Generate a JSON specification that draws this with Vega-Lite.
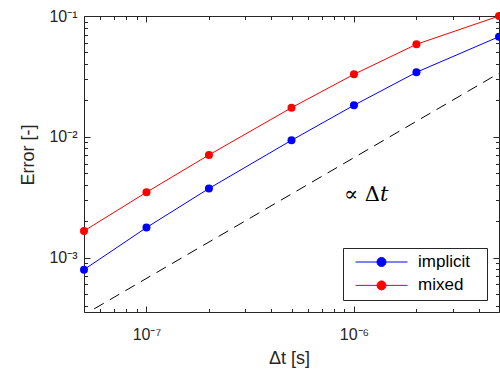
{
  "$schema": "https://vega.github.io/schema/vega-lite/v6.json",
  "width": 415,
  "height": 296,
  "autosize": {"type": "none"},
  "padding": {"left": 84, "top": 16, "right": 1, "bottom": 61},
  "background": "white",
  "config": {
    "view": {"stroke": null},
    "font": "Liberation Sans",
    "axis": {
      "grid": false,
      "domainColor": "#262626",
      "domainWidth": 1,
      "tickColor": "#262626",
      "tickWidth": 1,
      "labelColor": "#262626",
      "labelFont": "Liberation Sans",
      "labelFontSize": 16,
      "labelOverlap": false,
      "labelFlush": false,
      "labelBound": false,
      "titleColor": "#262626",
      "titleFont": "Liberation Sans",
      "titleFontSize": 18,
      "titleFontWeight": "normal"
    }
  },
  "datasets": {
    "series": [
      {"dt": 5e-8, "error": 0.000794, "method": "implicit"},
      {"dt": 1e-7, "error": 0.00177, "method": "implicit"},
      {"dt": 2e-7, "error": 0.00373, "method": "implicit"},
      {"dt": 5e-7, "error": 0.00935, "method": "implicit"},
      {"dt": 1e-6, "error": 0.01823, "method": "implicit"},
      {"dt": 2e-6, "error": 0.0342, "method": "implicit"},
      {"dt": 5e-6, "error": 0.0674, "method": "implicit"},
      {"dt": 5e-8, "error": 0.00166, "method": "mixed"},
      {"dt": 1e-7, "error": 0.00347, "method": "mixed"},
      {"dt": 2e-7, "error": 0.00707, "method": "mixed"},
      {"dt": 5e-7, "error": 0.0174, "method": "mixed"},
      {"dt": 1e-6, "error": 0.0329, "method": "mixed"},
      {"dt": 2e-6, "error": 0.0583, "method": "mixed"},
      {"dt": 5e-6, "error": 0.1, "method": "mixed"}
    ],
    "ref": [
      {"dt": 5.6e-8, "error": 0.000376},
      {"dt": 5e-6, "error": 0.0336}
    ],
    "note": [
      {"dt": 8.95e-7, "error": 0.00327, "label": "∝ Δ𝑡"}
    ]
  },
  "layer": [
    {
      "data": {"name": "ref"},
      "mark": {"type": "line", "color": "black", "strokeWidth": 1, "strokeDash": [11, 7], "clip": true},
      "encoding": {
        "x": {
          "field": "dt", "type": "quantitative",
          "scale": {"type": "log", "domain": [5e-8, 5e-6]},
          "axis": {
            "orient": "top", "labels": false, "title": null,
            "tickValues": [5e-8, 6e-8, 7e-8, 8e-8, 9e-8, 1e-7, 2e-7, 3e-7, 4e-7, 5e-7, 6e-7, 7e-7, 8e-7, 9e-7, 1e-6, 2e-6, 3e-6, 4e-6, 5e-6],
            "tickSize": {"condition": {"test": "abs(log(datum.value)/LN10 - round(log(datum.value)/LN10)) < 1e-6", "value": -6}, "value": -3.5}
          }
        },
        "y": {
          "field": "error", "type": "quantitative",
          "scale": {"type": "log", "domain": [0.000354, 0.1]},
          "axis": {
            "orient": "right", "labels": false, "title": null,
            "tickValues": [0.0004, 0.0005, 0.0006, 0.0007, 0.0008, 0.0009, 0.001, 0.002, 0.003, 0.004, 0.005, 0.006, 0.007, 0.008, 0.009, 0.01, 0.02, 0.03, 0.04, 0.05, 0.06, 0.07, 0.08, 0.09, 0.1],
            "tickSize": {"condition": {"test": "abs(log(datum.value)/LN10 - round(log(datum.value)/LN10)) < 1e-6", "value": -6}, "value": -3.5}
          }
        }
      }
    },
    {
      "encoding": {
        "x": {
          "field": "dt", "type": "quantitative",
          "scale": {"type": "log", "domain": [5e-8, 5e-6]},
          "axis": {
            "orient": "bottom",
            "title": "Δt [s]",
            "titleX": 205, "titleY": 51, "titleAlign": "center", "titleBaseline": "alphabetic",
            "tickValues": [5e-8, 6e-8, 7e-8, 8e-8, 9e-8, 1e-7, 2e-7, 3e-7, 4e-7, 5e-7, 6e-7, 7e-7, 8e-7, 9e-7, 1e-6, 2e-6, 3e-6, 4e-6, 5e-6],
            "labelExpr": "datum.value == 1e-7 ? '10⁻⁷' : datum.value == 1e-6 ? '10⁻⁶' : ''",
            "labelPadding": 20,
            "labelBaseline": "top",
            "tickSize": {"condition": {"test": "abs(log(datum.value)/LN10 - round(log(datum.value)/LN10)) < 1e-6", "value": -6}, "value": -3.5}
          }
        },
        "y": {
          "field": "error", "type": "quantitative",
          "scale": {"type": "log", "domain": [0.000354, 0.1]},
          "axis": {
            "orient": "left",
            "title": "Error [-]",
            "titleX": -51, "titleY": 138.5, "titleAlign": "center", "titleBaseline": "alphabetic", "titleAngle": -90,
            "tickValues": [0.0004, 0.0005, 0.0006, 0.0007, 0.0008, 0.0009, 0.001, 0.002, 0.003, 0.004, 0.005, 0.006, 0.007, 0.008, 0.009, 0.01, 0.02, 0.03, 0.04, 0.05, 0.06, 0.07, 0.08, 0.09, 0.1],
            "labelExpr": "datum.value == 0.001 ? '10⁻³' : datum.value == 0.01 ? '10⁻²' : datum.value == 0.1 ? '10⁻¹' : ''",
            "labelPadding": 13,
            "tickSize": {"condition": {"test": "abs(log(datum.value)/LN10 - round(log(datum.value)/LN10)) < 1e-6", "value": -6}, "value": -3.5}
          }
        }
      },
      "layer": [
        {
          "data": {"name": "series"},
          "mark": {"type": "line", "strokeWidth": 1},
          "encoding": {
            "color": {
              "field": "method", "type": "nominal",
              "scale": {"domain": ["implicit", "mixed"], "range": ["#0000ff", "#ff0000"]},
              "legend": {
                "orient": "none", "legendX": 259, "legendY": 232,
                "title": null,
                "padding": 5,
                "fillColor": "white",
                "strokeColor": "#262626",
                "symbolType": "M-1,0L1,0M-0.173,0A0.173,0.173,0,1,1,0.173,0A0.173,0.173,0,1,1,-0.173,0Z",
                "symbolSize": 2704,
                "symbolStrokeWidth": 1,
                "symbolOffset": 7,
                "clipHeight": 18,
                "rowPadding": 5.4,
                "labelFont": "Liberation Sans",
                "labelFontSize": 17,
                "labelColor": "#000000",
                "labelOffset": 10,
                "labelExpr": "datum.label + '\u2800'",
                "encode": {
                  "symbols": {
                    "update": {
                      "fill": {"scale": "color", "field": "value"},
                      "stroke": {"scale": "color", "field": "value"},
                      "opacity": {"value": 1}
                    }
                  }
                }
              }
            }
          }
        },
        {
          "data": {"name": "series"},
          "mark": {"type": "point", "filled": true, "size": 64, "opacity": 1},
          "encoding": {
            "color": {"field": "method", "type": "nominal"}
          }
        },
        {
          "data": {"name": "note"},
          "mark": {"type": "text", "font": "DejaVu Serif", "fontSize": 21, "align": "left", "baseline": "middle", "color": "black"},
          "encoding": {
            "text": {"field": "label", "type": "nominal"}
          }
        }
      ]
    }
  ],
  "resolve": {"scale": {"x": "independent", "y": "independent"}}
}
